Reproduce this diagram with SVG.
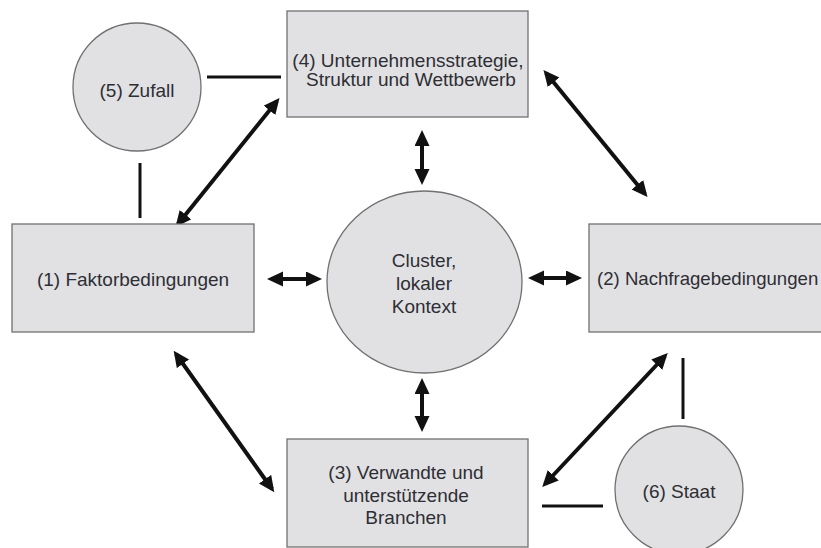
<svg xmlns="http://www.w3.org/2000/svg" width="821" height="548" viewBox="0 0 821 548">
<style>
.n{fill:#e1e1e3;stroke:#707070;stroke-width:1.3}
.t{font-family:"Liberation Sans",Arial,sans-serif;font-size:19px;fill:#2e2e35;text-anchor:middle}
.a{stroke:#111;stroke-width:4;fill:none;marker-start:url(#h);marker-end:url(#h)}
.l{stroke:#111;stroke-width:3;fill:none}
</style>
<defs>
<marker id="h" markerUnits="userSpaceOnUse" markerWidth="18" markerHeight="16" refX="12" refY="7.5" orient="auto-start-reverse">
<path d="M0,0 L16,7.5 L0,15 z" fill="#111"/>
</marker>
</defs>
<rect width="821" height="548" fill="#fff"/>
<g id="connectors">
<line class="a" x1="422" y1="134" x2="422" y2="181"/>
<line class="a" x1="271" y1="279" x2="318" y2="279"/>
<line class="a" x1="532" y1="278" x2="578" y2="278"/>
<line class="a" x1="422" y1="382" x2="422" y2="428"/>
<line class="a" x1="178" y1="224" x2="277" y2="101"/>
<line class="a" x1="546" y1="73" x2="645" y2="194"/>
<line class="a" x1="176" y1="354" x2="272" y2="489"/>
<line class="a" x1="545" y1="484" x2="665" y2="356"/>
<line class="l" x1="207" y1="77" x2="281" y2="77"/>
<line class="l" x1="140" y1="163" x2="140" y2="218"/>
<line class="l" x1="542" y1="506" x2="603" y2="506"/>
<line class="l" x1="683" y1="358" x2="683" y2="419"/>
</g>
<g id="n5">
<circle class="n" cx="137" cy="87" r="64"/>
<text class="t" x="137" y="97">(5) Zufall</text>
</g>
<g id="n4">
<rect class="n" x="287" y="11" width="241" height="106"/>
<text class="t" x="408" y="67">(4) Unternehmensstrategie,</text>
<text class="t" x="411" y="86">Struktur und Wettbewerb</text>
</g>
<g id="n1">
<rect class="n" x="12" y="224" width="242" height="108"/>
<text class="t" x="133" y="286">(1) Faktorbedingungen</text>
</g>
<g id="cluster">
<ellipse class="n" cx="424.5" cy="282" rx="97.5" ry="91"/>
<text class="t" x="424" y="267">Cluster,</text>
<text class="t" x="424" y="290">lokaler</text>
<text class="t" x="424" y="313">Kontext</text>
</g>
<g id="n2">
<rect class="n" x="589" y="224" width="240" height="108"/>
<text class="t" x="597" y="285" style="text-anchor:start;font-size:18.6px">(2) Nachfragebedingungen</text>
</g>
<g id="n3">
<rect class="n" x="287" y="439" width="241" height="108"/>
<text class="t" x="406" y="479">(3) Verwandte und</text>
<text class="t" x="406" y="502">unterstützende</text>
<text class="t" x="406" y="524">Branchen</text>
</g>
<g id="n6">
<circle class="n" cx="679" cy="490" r="64"/>
<text class="t" x="679" y="498">(6) Staat</text>
</g>
</svg>
